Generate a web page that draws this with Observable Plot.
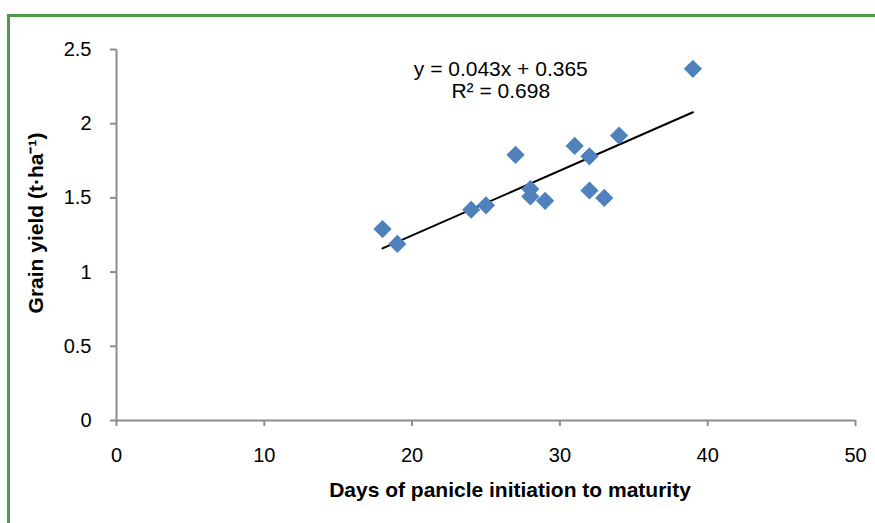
<!DOCTYPE html>
<html>
<head>
<meta charset="utf-8">
<script src="https://cdn.jsdelivr.net/npm/d3@7"></script>
<script src="https://cdn.jsdelivr.net/npm/@observablehq/plot@0.6"></script>
<style>
  html, body { margin: 0; padding: 0; background: #fff; }
  #wrap { position: relative; width: 875px; height: 523px; overflow: hidden; }
  #border { position: absolute; left: 7px; top: 14px; width: 900px; height: 600px;
            border-top: 3px solid #4b9b4b; border-left: 3px solid #4b9b4b; box-sizing: border-box; }
  #chart { position: absolute; left: 0; top: 0; }
</style>
</head>
<body>
<div id="wrap"><div id="border"></div><div id="chart"></div></div>
<script>
const days  = [18, 19, 24, 25, 27, 28, 28, 29, 31, 32, 32, 33, 34, 39];
const yieldT = [1.29, 1.19, 1.42, 1.45, 1.79, 1.56, 1.51, 1.48, 1.85, 1.78, 1.55, 1.50, 1.92, 2.37];
const xTicks = [0, 10, 20, 30, 40, 50];
const yTicks = [0, 0.5, 1, 1.5, 2, 2.5];
const yTickLabels = ["0", "0.5", "1", "1.5", "2", "2.5"];
const equation = ["y = 0.043x + 0.365", "R² = 0.698"];
const xTitle = "Days of panicle initiation to maturity";
const yTitle = "Grain yield (t·ha⁻¹)";

const data = days.map((d, i) => ({x: d, y: yieldT[i]}));
const font = "Liberation Sans, Arial, sans-serif";

const chart = Plot.plot({
  width: 875,
  height: 523,
  marginLeft: 116,
  marginRight: 20,
  marginTop: 49,
  marginBottom: 103,
  style: {fontFamily: font, fontSize: "20px", color: "#000", background: "transparent"},
  x: {domain: [0, 50]},
  y: {domain: [0, 2.5]},
  marks: [
    Plot.axisX({ticks: xTicks, tickSize: 6, tickPadding: 21, stroke: "#8c8c8c", strokeWidth: 2,
                label: null, fontSize: 20, fill: "#000"}),
    Plot.axisY({ticks: yTicks, tickFormat: (d) => yTickLabels[yTicks.indexOf(d)], tickSize: 6, tickPadding: 19,
                stroke: "#8c8c8c", strokeWidth: 2, label: null, fontSize: 20, fill: "#000"}),
    Plot.ruleY([0], {stroke: "#8c8c8c", strokeWidth: 2}),
    Plot.ruleX([0], {stroke: "#8c8c8c", strokeWidth: 2}),
    Plot.linearRegressionY(data, {x: "x", y: "y", ci: 0, stroke: "#000", strokeWidth: 2}),
    Plot.dot(data, {x: "x", y: "y", symbol: "diamond2", r: 8.2, fill: "#4f81bd", stroke: "none"}),
    Plot.text([equation.join("\n")], {x: 26, y: 2.298, lineAnchor: "middle", lineHeight: 1.05,
               fontSize: 21, fill: "#000", textAnchor: "middle"}),
    Plot.text([xTitle], {frameAnchor: "bottom", dx: 24, dy: 70, lineAnchor: "middle",
               fontSize: 21, fontWeight: "bold", fill: "#000"}),
    Plot.text([yTitle], {frameAnchor: "left", textAnchor: "middle", dx: -80, dy: -12, rotate: -90, lineAnchor: "middle",
               fontSize: 21, fontWeight: "bold", fill: "#000"})
  ]
});
document.getElementById("chart").appendChild(chart);
</script>
</body>
</html>
